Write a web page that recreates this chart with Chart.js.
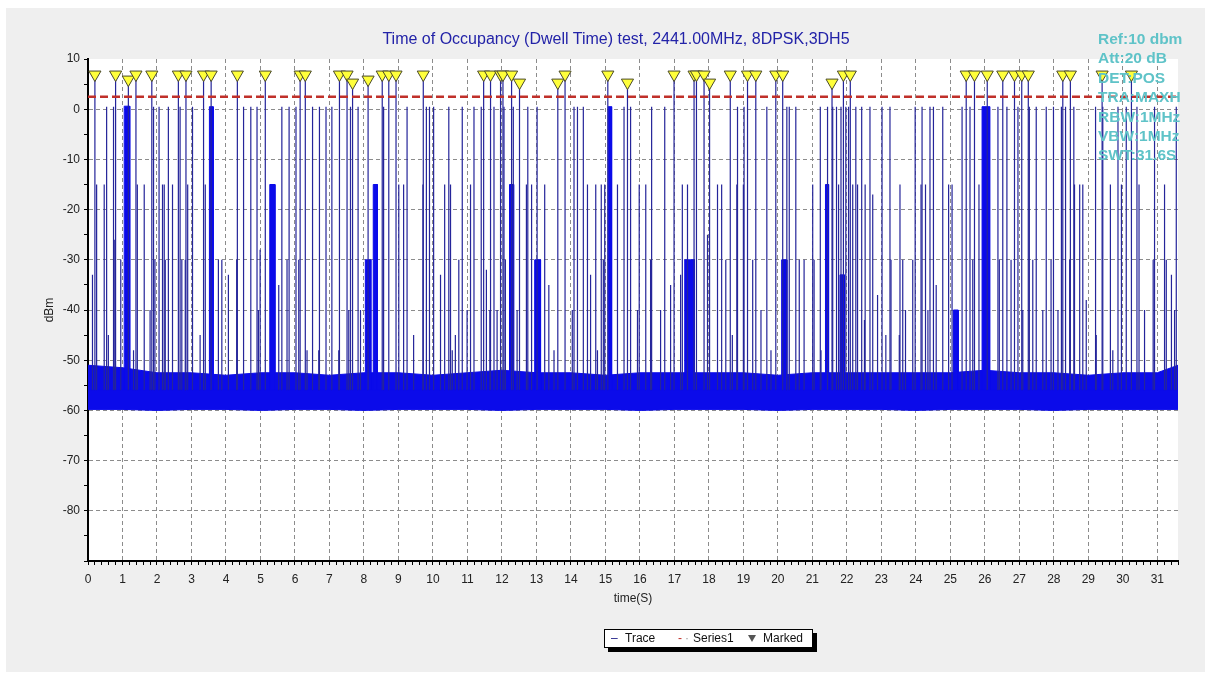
<!DOCTYPE html>
<html>
<head>
<meta charset="utf-8">
<script src="https://cdn.jsdelivr.net/npm/chart.js@4.4.1/dist/chart.umd.min.js"></script>
<style>
    body { margin: 0; background: #fff; width: 1211px; height: 677px; overflow: hidden; font-family: "Liberation Sans", Arial, sans-serif; }
    #panel { position: absolute; left: 6px; top: 8px; width: 1199px; height: 664px; background: #efefef; }
    #chart { position: absolute; left: 0; top: 0; }
    #title { position: absolute; left: 316px; top: 30px; width: 600px; text-align: center; font-size: 16px; color: #2323a8; white-space: nowrap; }
    #info { position: absolute; left: 1098px; top: 29px; font-size: 15.5px; font-weight: bold; line-height: 19.4px; color: #5fc3c8; white-space: nowrap; }
    #legend { position: absolute; left: 604px; top: 629px; width: 207px; height: 17px; background: #fff; border: 1px solid #000; box-shadow: 4px 4px 0 #000; font-size: 12px; color: #111; line-height: 17px; white-space: nowrap; }
    #legend span { position: absolute; top: 0; }
    #legend span.tri { top: 5px; width: 0; height: 0; border-left: 4px solid transparent; border-right: 4px solid transparent; border-top: 7px solid #555; }
</style>
</head>
<body>
<div id="panel"></div>
<canvas id="chart" width="1211" height="677"></canvas>
<div id="title">Time of Occupancy (Dwell Time) test, 2441.00MHz, 8DPSK,3DH5</div>
<div id="info">Ref:10 dbm<br>Att:20 dB<br>DET:POS<br>TRA:MAXH<br>RBW:1MHz<br>VBW:1MHz<br>SWT:31.6S</div>
<div id="legend">
    <span style="left:6px;color:#20208a">&#8211;</span><span style="left:20px">Trace</span>
    <span style="left:73px;color:#c0302a">-</span><span style="left:80px;color:#999">&middot;</span><span style="left:88px">Series1</span>
    <span class="tri" style="left:143px"></span><span style="left:158px">Marked</span>
</div>
<script>
// ── Data ─────────────────────────────────────────────────────
const X_MAX = 31.6;
const FLOOR = -56;          // trace floor inside the noise band
const SERIES1 = 2.5;        // red dashed limit line (dBm)

// yellow markers: time (s) and level (dBm)
const markerT = [0.20, 0.80, 1.17, 1.39, 1.85, 2.62, 2.84, 3.35, 3.57, 4.33, 5.14, 6.15, 6.30, 7.29, 7.51, 7.67, 8.12, 8.53, 8.72, 8.93, 9.72,
    11.47, 11.67, 11.96, 12.03, 12.28, 12.51, 13.62, 13.83, 15.07, 15.64, 16.99, 17.57, 17.64, 17.86, 18.02, 18.62, 19.12, 19.36, 19.94, 20.14,
    21.57, 21.90, 22.10, 25.46, 25.70, 26.07, 26.52, 26.86, 27.07, 27.26, 28.26, 28.48, 29.40, 30.25];
const markerV = [6.9, 6.9, 5.9, 6.9, 6.9, 6.9, 6.9, 6.9, 6.9, 6.9, 6.9, 6.9, 6.9, 6.9, 6.9, 5.3, 5.9, 6.9, 6.9, 6.9, 6.9,
    6.9, 6.9, 6.9, 6.9, 6.9, 5.3, 5.3, 6.9, 6.9, 5.3, 6.9, 6.9, 6.9, 6.9, 5.3, 6.9, 6.9, 6.9, 6.9, 6.9,
    5.3, 6.9, 6.9, 6.9, 6.9, 6.9, 6.9, 6.9, 6.9, 6.9, 6.9, 6.9, 6.9, 6.9];

// single burst lines: time (s) and peak (dBm)
const spikeT = [0.13, 0.25, 0.47, 0.54, 0.59, 0.74, 0.76, 0.95, 1.32, 1.43, 1.63, 1.80, 1.90, 1.94, 2.06, 2.16, 2.21, 2.24, 2.33, 2.45,
    2.67, 2.72, 2.82, 2.89, 3.03, 3.25, 3.40, 3.78, 3.88, 4.07, 4.31, 4.51, 4.72, 4.90, 4.94, 4.99, 5.53, 5.62, 5.77, 5.83,
    6.03, 6.11, 6.35, 6.51, 6.69, 6.71, 6.90, 7.07, 7.27, 7.56, 7.61, 7.83, 7.90, 8.57, 9.01, 9.15, 9.25, 9.44, 9.71, 9.81,
    9.90, 10.02, 10.22, 10.34, 10.46, 10.51, 10.56,
    10.65, 10.75, 10.85, 10.99, 11.09, 11.19, 11.40, 11.55, 11.65, 11.77, 11.86, 12.06, 12.10, 12.33, 12.44, 12.71, 12.75, 12.86, 13.02, 13.24,
    13.36, 13.51, 14.04, 14.09, 14.19, 14.36, 14.48, 14.57, 14.72, 14.77, 14.88, 14.94, 14.98, 15.35, 15.54, 15.73, 15.93, 15.98, 16.17, 16.31,
    16.34, 16.60, 16.72, 16.89, 17.18, 17.23, 17.38, 17.96, 18.25, 18.37, 18.49, 18.68, 18.81, 18.83, 19.00, 19.02, 19.27, 19.51, 19.68, 19.80,
    20.26, 20.33, 20.52, 20.62, 20.76, 21.01, 21.05, 21.23, 21.25,
    21.44, 21.59, 21.70, 21.76, 21.83, 21.97, 22.05, 22.17, 22.26, 22.31, 22.43, 22.51, 22.53, 22.67, 22.75, 22.89, 23.02, 23.13, 23.25, 23.28,
    23.52, 23.54, 23.62, 23.70, 23.91, 23.98, 24.15, 24.18, 24.28, 24.35, 24.41, 24.51, 24.59, 24.78, 24.95, 25.05, 25.34, 25.57, 25.65, 25.83,
    26.38, 26.42, 26.64, 26.76, 26.96, 27.10, 27.29, 27.39, 27.49, 27.68, 27.78, 27.92, 27.99, 28.12, 28.22, 28.34, 28.46, 28.58, 28.60, 28.75,
    28.84, 28.94, 29.21, 29.23, 29.42, 29.64, 29.71, 29.86, 29.96, 30.10, 30.41, 30.47, 30.63, 30.88, 30.92, 31.21, 31.26, 31.41, 31.50, 31.55];
const spikeV = [-33, -15, -15, 0.5, -45, 0.5, -26, -30, -48, -15, -15, -40, 0.5, -30, 0.5, -15, -15, -30, 0.5, -15,
    0.5, -30, -30, -15, 0.5, -45, -15, -30, -30, -33, -30, 0.5, 0.5, 0.5, -40, -28, -35, 0.5, -30, 0.5,
    0.5, -30, -48, 0.5, -48, 0.5, 0.5, 0.5, -48, -40, 0.5, 0.5, -40, 0.5, -15, -15, 0.5, -45, -15, 0.5,
    0.5, 0.5, -33, -15, 0.5, -15, -48,
    -45, -30, 0.5, -40, -15, 0.5, 0.5, -32, -40, 0.5, -40, 0.5, -30, 0.5, -40, -15, 0.5, -15, 0.5, -15,
    -35, -48, -40, 0.5, 0.5, 0.5, -15, -33, -15, -48, -15, -30, -15, -15, 0.5, 0.5, -40, -15, -15, -30,
    0.5, -40, 0.5, -35, -33, -15, -15, -25, -15, -15, -30, -45, -15, 0.5, -15, 0.5, -30, -40, 0.5, -48,
    0.5, 0.5, 0.5, -30, -30, -15, -30, 0.5, -48,
    0.5, 0.5, 0.5, -15, 0.5, 0.5, 0.5, -15, 0.5, -15, 0.5, -42, -15, 0.5, -17, -37, 0.5, -45, 0.5, -30,
    -45, -15, -30, -40, -30, 0.5, -15, 0.5, -15, -40, 0.5, 0.5, -35, 0.5, -15, -15, 0.5, 0.5, -30, -15,
    0.5, -30, 0.5, -30, 0.5, -40, 0.5, -30, 0.5, -40, 0.5, -30, 0.5, -40, 0.5, 0.5, -30, 0.5, -15, -15,
    -15, -38, 0.5, -45, 0.5, -15, -48, 0.5, -15, 0.5, 0.5, -15, -40, -30, 0.5, -15, -30, -33, -40, 0.5];

// dense burst clusters: start (s), end (s), peak (dBm)
const blockStart = [1.05, 3.52, 5.27, 8.04, 8.27, 12.22, 12.95, 15.08, 17.30, 20.11, 21.38, 21.80, 25.09, 25.92];
const blockEnd   = [1.21, 3.63, 5.42, 8.20, 8.39, 12.34, 13.12, 15.18, 17.58, 20.26, 21.47, 21.93, 25.23, 26.14];
const blockPeak  = [0.6, 0.5, -15, -30, -15, -15, -30, 0.5, -30, -30, -15, -33, -40, 0.5];

// noise floor band, read once per second
const noiseT = [0, 1, 2, 3, 4, 5, 6, 7, 8, 9, 10, 11, 12, 13, 14, 15, 16, 17, 18, 19, 20, 21, 22, 23, 24, 25, 26, 27, 28, 29, 30, 31, 31.6];
const noiseTop = [-51, -51.5, -52.5, -52.5, -53, -52.5, -52.5, -53, -52.5, -52.5, -53, -52.5, -52, -52.5, -52.5, -53, -52.5,
    -52.5, -52.5, -52.5, -53, -52.5, -52.5, -52.5, -52.5, -52.5, -52, -52.5, -52.5, -53, -52.5, -52.5, -51];
const noiseBottom = [-59.8, -59.8, -60, -59.8, -59.8, -60, -59.8, -59.8, -60, -59.8, -59.8, -59.8, -60, -59.8, -59.8, -59.8, -60,
    -59.8, -59.8, -59.8, -60, -59.8, -59.8, -59.8, -60, -59.8, -59.8, -59.8, -60, -59.8, -59.8, -59.8, -59.8];

// ── Build point lists ────────────────────────────────────────
function buildTrace() {
    const all = spikeT.map((t, i) => [t, spikeV[i]]).concat(markerT.map((t, i) => [t, markerV[i]]));
    all.sort((a, b) => a[0] - b[0]);
    const pts = [{ x: 0, y: FLOOR }];
    all.forEach(([t, v]) => {
        pts.push({ x: t, y: FLOOR }, { x: t, y: v }, { x: t, y: FLOOR });
    });
    pts.push({ x: X_MAX, y: FLOOR });
    return pts;
}

function buildBlocks() {
    const pts = [];
    blockStart.forEach((s, i) => {
        pts.push({ x: s, y: FLOOR }, { x: s, y: blockPeak[i] }, { x: blockEnd[i], y: blockPeak[i] }, { x: blockEnd[i], y: FLOOR });
    });
    return pts;
}

const isInt = v => Math.abs(v - Math.round(v)) < 1e-6;
const BLUE = '#0b0bea';
const LINE = '#25259a';
const GRID = '#8c8c8c';
// hide the floor run of the trace inside the band
const onFloor = c => c.p0.parsed.y === FLOOR && c.p1.parsed.y === FLOOR;

// ── Plot background ──────────────────────────────────────────
const plotBg = {
    id: 'plotBg',
    beforeDraw(chart) {
        const { ctx, chartArea: a } = chart;
        ctx.save();
        ctx.fillStyle = '#fff';
        ctx.fillRect(a.left, a.top, a.right - a.left, a.bottom - a.top);
        ctx.restore();
    }
};

Chart.defaults.font.family = '"Liberation Sans", Arial, sans-serif';
Chart.defaults.font.size = 12;
Chart.defaults.color = '#222';

new Chart(document.getElementById('chart'), {
    type: 'line',
    data: {
        datasets: [
            {
                label: 'Marked', type: 'scatter', showLine: false, order: 0,
                data: markerT.map((t, i) => ({ x: t, y: markerV[i] })),
                pointStyle: 'triangle', rotation: 180, pointRadius: 7,
                backgroundColor: '#ffff3a', borderColor: '#4a4a2a', borderWidth: 1
            },
            {
                label: 'Series1', order: 1,
                data: [{ x: 0, y: SERIES1 }, { x: X_MAX, y: SERIES1 }],
                borderColor: '#c0302a', borderDash: [8, 4], borderWidth: 2.5, pointRadius: 0
            },
            {
                label: 'Trace', order: 2, data: buildTrace(),
                borderColor: LINE, borderWidth: 1.2, pointRadius: 0,
                segment: { borderColor: c => onFloor(c) ? BLUE : LINE }
            },
            {
                label: 'clusters', order: 3, data: buildBlocks(),
                borderColor: BLUE, backgroundColor: BLUE, borderWidth: 1, pointRadius: 0,
                fill: { value: FLOOR }
            },
            {
                label: 'noiseTop', order: 4,
                data: noiseT.map((t, i) => ({ x: t, y: noiseTop[i] })),
                borderColor: BLUE, backgroundColor: BLUE, borderWidth: 1, pointRadius: 0, fill: '+1'
            },
            {
                label: 'noiseBottom', order: 5,
                data: noiseT.map((t, i) => ({ x: t, y: noiseBottom[i] })),
                borderColor: BLUE, borderWidth: 1, pointRadius: 0
            }
        ]
    },
    options: {
        responsive: false,
        animation: false,
        events: [],
        layout: { padding: { left: 0, right: 33, top: 59, bottom: 66 } },
        plugins: { legend: { display: false }, tooltip: { enabled: false } },
        scales: {
            x: {
                type: 'linear', min: 0, max: X_MAX,
                ticks: {
                    stepSize: 0.2, autoSkip: false, maxRotation: 0, minRotation: 0, padding: 7,
                    callback: v => isInt(v) ? String(Math.round(v)) : ''
                },
                grid: {
                    color: c => (isInt(c.tick.value) && c.tick.value > 0) ? GRID : 'rgba(0,0,0,0)',
                    tickColor: '#000', tickLength: 4
                },
                border: { color: '#000', width: 2, dash: [4, 3] },
                title: { display: true, text: 'time(S)', padding: { top: 0, bottom: 5 } },
                afterFit: s => { s.height = 50; }
            },
            y: {
                min: -90, max: 10,
                ticks: {
                    stepSize: 5, autoSkip: false, padding: 4,
                    callback: v => (v % 10 === 0 && v > -90) ? String(v) : ''
                },
                grid: {
                    color: c => (c.tick.value % 10 === 0 && c.tick.value > -90 && c.tick.value < 10) ? GRID : 'rgba(0,0,0,0)',
                    tickColor: '#000', tickLength: 4
                },
                border: { color: '#000', width: 2, dash: [4, 3] },
                title: { display: true, text: 'dBm', padding: { top: 42, bottom: 0 } },
                afterFit: s => { s.width = 88; }
            }
        }
    },
    plugins: [plotBg]
});
</script>
</body>
</html>
